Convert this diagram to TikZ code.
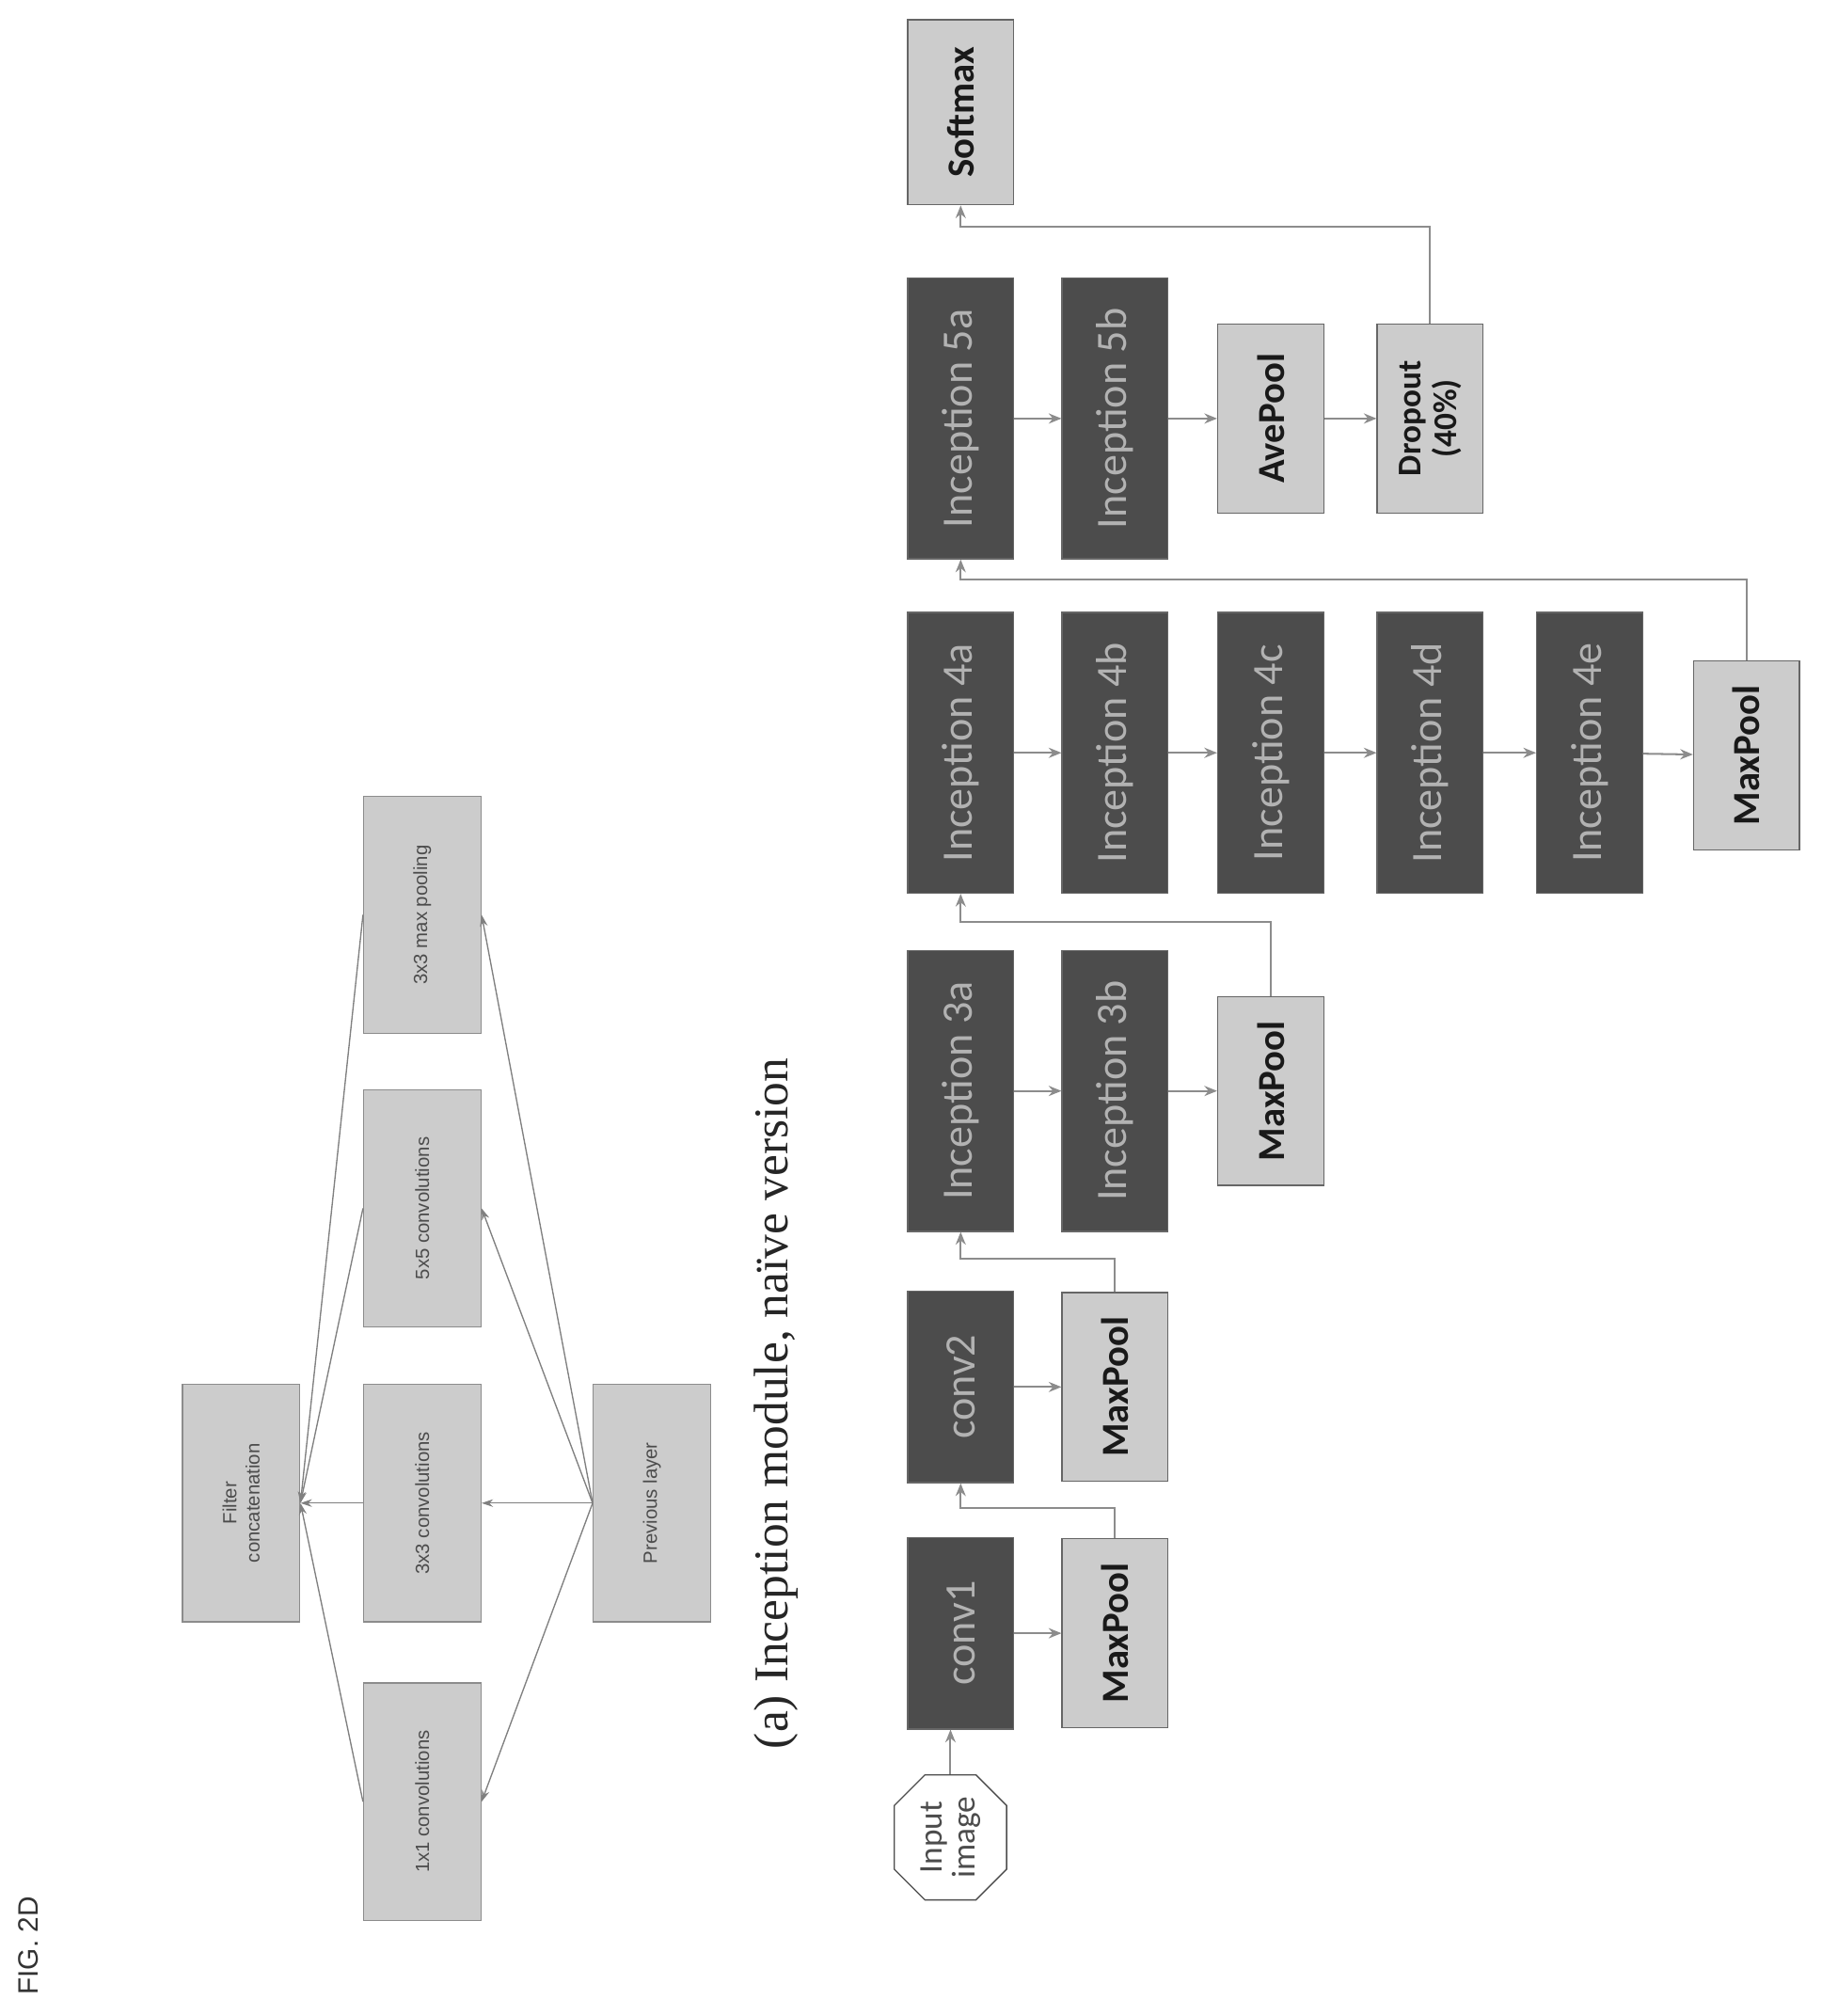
\documentclass[tikz,border=0pt]{standalone}
\usepackage{fontspec}
\setmainfont{Liberation Serif}
\newfontfamily\netf{Carlito}
\newfontfamily\smf{Liberation Sans}
\usetikzlibrary{arrows.meta,shapes.misc}
\begin{document}
\begin{tikzpicture}[x=1pt,y=1pt,
 box/.style={rotate=90,draw=black!60,line width=1pt,inner sep=2pt,align=center},
 dark/.style={box,fill=black!70,text=black!30,font=\netf\fontsize{34}{38}\selectfont,minimum height=83,minimum width=220},
 lite/.style={box,fill=black!20,text=black!90,font=\netf\bfseries\fontsize{30}{34}\selectfont,minimum height=83,minimum width=148},
 top/.style={box,fill=black!20,draw=black!45,text=black!70,font=\smf\fontsize{15}{18}\selectfont,minimum height=92,minimum width=186},
 ar/.style={draw=black!45,line width=1.5pt,-{Stealth[length=10pt,width=8pt]}},
 tar/.style={draw=black!50,line width=1pt,-{Stealth[length=9pt,width=6pt]}}]
\useasboundingbox (0,0) rectangle (1440,-1580);
% FIG label
\node[rotate=90,font=\smf\fontsize{22}{24}\selectfont,text=black!80] (fig) at (22,-1525) {FIG. 2D};
% top diagram
\node[top] (fc) at (189,-1178) {Filter\\concatenation};
\node[top] (c1) at (331,-1412) {1x1 convolutions};
\node[top] (c3) at (331,-1178) {3x3 convolutions};
\node[top] (c5) at (331,-947) {5x5 convolutions};
\node[top] (mp) at (331,-717) {3x3 max pooling};
\node[top] (prev) at (511,-1178) {Previous layer};
\foreach \b in {c1,c3,c5,mp}{
 \draw[tar] (prev.north) -- (\b.south);
 \draw[tar] (\b.north) -- (fc.south);
}
\node[rotate=90,font=\fontsize{38}{42}\selectfont,text=black!85] (cap) at (608,-1100) {(a) Inception module, naïve version};
% network
\node[rotate=90,draw=black!70,line width=1pt,chamfered rectangle,chamfered rectangle xsep=12pt,chamfered rectangle ysep=12pt,inner sep=1pt,minimum width=98,minimum height=88,align=center,font=\netf\fontsize{26}{26}\selectfont,text=black!70] (in) at (745,-1440) {Input\\image};
\node[dark,minimum width=150] (cv1) at (753,-1280) {conv1};
\node[dark,minimum width=150] (cv2) at (753,-1087) {conv2};
\node[lite] (m1) at (874,-1280) {MaxPool};
\node[lite] (m2) at (874,-1087) {MaxPool};
\node[dark] (i3a) at (753,-855) {Inception 3a};
\node[dark] (i3b) at (874,-855) {Inception 3b};
\node[lite] (m3) at (996,-855) {MaxPool};
\node[dark] (i4a) at (753,-590) {Inception 4a};
\node[dark] (i4b) at (874,-590) {Inception 4b};
\node[dark] (i4c) at (996,-590) {Inception 4c};
\node[dark] (i4d) at (1121,-590) {Inception 4d};
\node[dark] (i4e) at (1246,-590) {Inception 4e};
\node[lite] (m4) at (1369,-592) {MaxPool};
\node[dark] (i5a) at (753,-328) {Inception 5a};
\node[dark] (i5b) at (874,-328) {Inception 5b};
\node[lite] (ap) at (996,-328) {AvePool};
\node[lite,font=\netf\bfseries\fontsize{26}{28}\selectfont] (dr) at (1121,-328) {Dropout\\(40\%)};
\node[lite,minimum width=145] (sm) at (753,-88) {Softmax};
\draw[ar] (in.east) -- (in.east |- cv1.west);
\draw[ar] (cv1) -- (m1);
\draw[ar] (m1.east) -- ++(0,24) -| (cv2.west);
\draw[ar] (cv2) -- (m2);
\draw[ar] (m2.east) -- ++(0,26) -| (i3a.west);
\draw[ar] (i3a) -- (i3b);
\draw[ar] (i3b) -- (m3);
\draw[ar] (m3.east) -- ++(0,58) -| (i4a.west);
\draw[ar] (i4a) -- (i4b);
\draw[ar] (i4b) -- (i4c);
\draw[ar] (i4c) -- (i4d);
\draw[ar] (i4d) -- (i4e);
\draw[ar] (i4e) -- (m4);
\draw[ar] (m4.east) -- ++(0,63) -| (i5a.west);
\draw[ar] (i5a) -- (i5b);
\draw[ar] (i5b) -- (ap);
\draw[ar] (ap) -- (dr);
\draw[ar] (dr.east) -- ++(0,76) -| (sm.west);
\end{tikzpicture}
\end{document}
